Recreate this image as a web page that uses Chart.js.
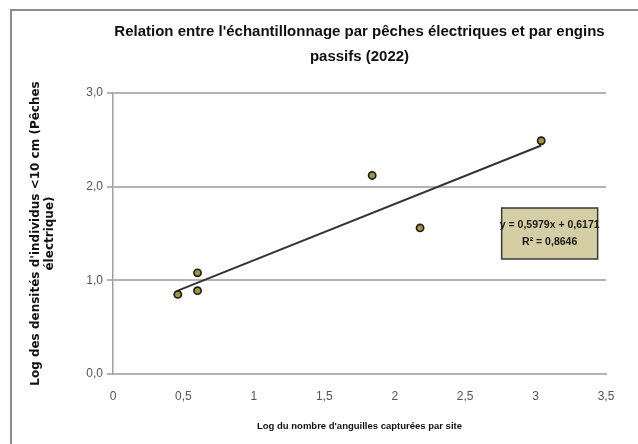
<!DOCTYPE html>
<html>
<head>
<meta charset="utf-8">
<script src="https://cdn.jsdelivr.net/npm/chart.js@4.4.1/dist/chart.umd.min.js"></script>
<style>
html, body { margin: 0; background: #fff; overflow: hidden; }
#wrap { position: relative; width: 638px; height: 444px; overflow: hidden; }
#frame { position: absolute; left: 10px; top: 9px; width: 640px; height: 450px;
  border-top: 2px solid #8c8c8c; border-left: 2px solid #8c8c8c; }
canvas { position: absolute; left: 0; top: 0; }
</style>
</head>
<body>
<div id="wrap">
<div id="frame"></div>
<canvas id="myChart" width="638" height="444"></canvas>
</div>
<script>
// values
const logCaptures = [0.46, 0.60, 0.60, 1.84, 2.18, 3.04]
const logDensites = [0.85, 1.08, 0.89, 2.12, 1.56, 2.49]
// ends of the trend line
const trendX = [0.46, 3.04]
const trendY = [0.89, 2.44]
const equation = ["y = 0,5979x + 0,6171", "R² = 0,8646"]
const eqPos = {x: 3.10, y: 1.50}

const sans = "'Liberation Sans', Arial, sans-serif"

function fr(v, dec){
    return v.toFixed(dec).replace('.', ',')
}

var points = logCaptures.map((x, i) => ({x: x, y: logDensites[i]}))
var trend = trendX.map((x, i) => ({x: x, y: trendY[i]}))

// draws the equation box, placed with the scales
const eqBox = {
    id: 'eqBox',
    afterDatasetsDraw(chart){
        const ctx = chart.ctx
        const cx = chart.scales.x.getPixelForValue(eqPos.x)
        const cy = chart.scales.y.getPixelForValue(eqPos.y)
        const w = 96, h = 51
        ctx.save()
        ctx.fillStyle = '#d5cda3'
        ctx.strokeStyle = '#3a3a3a'
        ctx.lineWidth = 1.5
        ctx.fillRect(cx - w/2, cy - h/2, w, h)
        ctx.strokeRect(cx - w/2, cy - h/2, w, h)
        ctx.fillStyle = '#1a1a1a'
        ctx.font = "bold 10.5px " + sans
        ctx.textAlign = 'center'
        ctx.textBaseline = 'middle'
        ctx.fillText(equation[0], cx, cy - 8)
        ctx.fillText(equation[1], cx, cy + 9)
        ctx.restore()
    }
}

var ctx = document.getElementById('myChart').getContext('2d')

var myChart = new Chart(ctx, {
    type: 'scatter',
    data: {
        datasets: [{
            label: 'sites',
            data: points,
            pointRadius: 3.6,
            pointBackgroundColor: '#a3963c',
            pointBorderColor: '#1e1e1e',
            pointBorderWidth: 1.7
        }, {
            type: 'line',
            label: 'tendance',
            data: trend,
            borderColor: '#333333',
            borderWidth: 2,
            pointRadius: 0,
            fill: false
        }]
    },
    options: {
        responsive: false,
        animation: false,
        layout: { padding: {left: 12, right: 32, top: 12, bottom: 8} },
        plugins: {
            legend: { display: false },
            tooltip: { enabled: false },
            title: {
                display: true,
                fullSize: false,
                text: ["Relation entre l'échantillonnage par pêches électriques et par engins", "passifs (2022)"],
                color: '#111',
                font: { family: sans, size: 15, weight: 'bold', lineHeight: 1.7 },
                padding: {top: 7, bottom: 23}
            }
        },
        scales: {
            x: {
                type: 'linear',
                min: 0, max: 3.5,
                ticks: { stepSize: 0.5, color: '#555', padding: 15,
                    font: { family: sans, size: 12 },
                    callback: v => String(v).replace('.', ',') },
                grid: { display: false, drawTicks: false },
                border: { display: true, color: '#b3b3b3', width: 2 },
                title: { display: true, text: "Log du nombre d'anguilles capturées par site",
                    color: '#111', font: { family: sans, size: 9.5, weight: 'bold' }, padding: {top: 8} },
                afterFit: s => { s.height = 444 - 8 - 374 }
            },
            y: {
                min: 0, max: 3,
                ticks: { stepSize: 1, color: '#555', padding: 4,
                    font: { family: sans, size: 12 },
                    callback: v => fr(v, 1) },
                grid: { color: '#b3b3b3', lineWidth: 2, tickLength: 6, drawOnChartArea: true },
                border: { display: true, color: '#a0a0a0', width: 1.5 },
                title: { display: true, text: ["Log des densités d'individus <10 cm (Pêches", "électrique)"],
                    color: '#111', font: { family: 'DejaVu Sans', size: 12, weight: 'bold', lineHeight: 1.15 },
                    padding: {top: 17, bottom: 0} },
                afterFit: s => { s.width = 113 - 12 }
            }
        }
    },
    plugins: [eqBox]
})
myChart.update()
</script>
</body>
</html>
